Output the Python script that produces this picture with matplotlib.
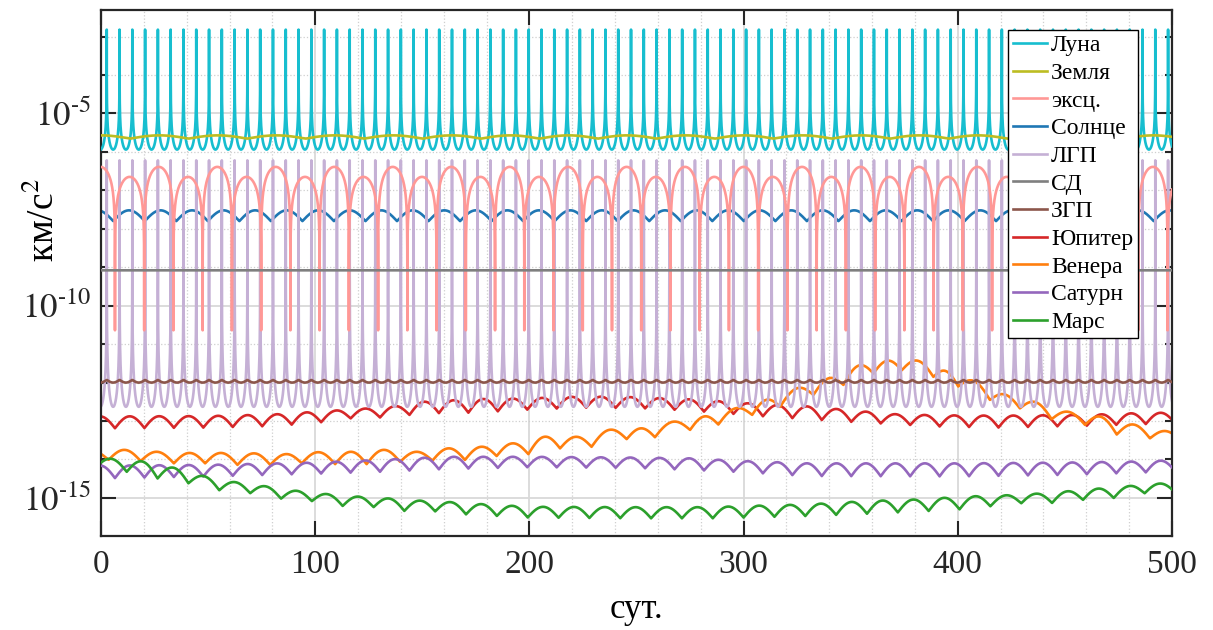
import numpy as np
import matplotlib
matplotlib.use('Agg')
import matplotlib.pyplot as plt
from matplotlib.ticker import FixedLocator, FixedFormatter, NullFormatter, MultipleLocator

plt.rcParams.update({
    'font.family': 'Liberation Serif',
    'mathtext.fontset': 'stix',
    'font.size': 24,
})

# === values (log10 of km/s^2, time in days) ===
LABELS = ['Луна', 'Земля', 'эксц.', 'Солнце', 'ЛГП', 'СД', 'ЗГП',
          'Юпитер', 'Венера', 'Сатурн', 'Марс']
COLORS = ['#17becf', '#bcbd22', '#ff9896', '#1f77b4', '#c5b0d5', '#7f7f7f',
          '#8c564b', '#d62728', '#ff7f0e', '#9467bd', '#2ca02c']

# spiky curves: period, first spike day, log floor, log cap, steepness
MOON = [5.97, 2.66, -5.94, -2.82, 1.0]
LGP = [5.97, 2.66, -12.63, -6.22, 1.8]

# eccentricity arches: period, first dip day, tall top, low top, dip floor
ECC = [13.65, 6.5, -6.39, -6.65, -10.64]

# small regular waves: period, first cusp day, cusp level, crest level
EARTH = [27.3, 13.6, -5.655, -5.57]
SUN = [14.72, 5.7, -7.80, -7.52]
ZGP = [5.97, 2.66, -11.93, -12.0]

SD_DAYS = [0, 500]
SD_LOG = [-9.08, -9.08]

# Jupiter: period 13.75, troughs from day 6.5
JUP_WAVE = [13.75, 6.5]
JUP_DAYS = [0, 50, 80, 100, 117, 135, 150, 175, 200, 225, 250, 273, 290, 310,
            330, 350, 370, 390, 420, 460, 480, 500]
JUP_PEAK = [-12.88, -12.87, -12.83, -12.76, -12.70, -12.63, -12.50, -12.43,
            -12.41, -12.36, -12.38, -12.43, -12.49, -12.57, -12.62, -12.72,
            -12.82, -12.85, -12.86, -12.84, -12.80, -12.78]
JUP_TROUGH = [-13.19, -13.17, -13.13, -13.05, -12.93, -12.90, -12.80, -12.78,
              -12.70, -12.65, -12.66, -12.72, -12.79, -12.88, -12.95, -13.02,
              -13.08, -13.14, -13.17, -13.12, -13.09, -13.06]

# Saturn: period 13.75, troughs from day 6.5
SAT_WAVE = [13.75, 6.5]
SAT_DAYS = [0, 50, 100, 130, 160, 200, 250, 275, 300, 330, 400, 450, 486, 500]
SAT_PEAK = [-14.16, -14.14, -14.08, -14.01, -13.93, -13.93, -13.95, -13.97,
            -14.04, -14.10, -14.10, -14.08, -14.05, -14.02]
SAT_TROUGH = [-14.49, -14.44, -14.37, -14.32, -14.25, -14.20, -14.22, -14.27,
              -14.33, -14.43, -14.44, -14.40, -14.34, -14.30]

# Mars: period 14.4, troughs from day 12
MARS_WAVE = [14.4, 12.0]
MARS_DAYS = [0, 12, 26, 41, 56, 70, 85, 98, 113, 127, 142, 156, 171, 200, 250,
             285, 300, 329, 358, 386, 400, 429, 444, 459, 473, 487, 500]
MARS_PEAK = [-13.97, -14.00, -14.10, -14.32, -14.56, -14.62, -14.79, -14.84,
             -14.96, -14.97, -15.06, -15.08, -15.14, -15.23, -15.24, -15.24,
             -15.21, -15.17, -15.08, -15.03, -14.97, -14.92, -14.86, -14.79,
             -14.72, -14.66, -14.60]
MARS_TROUGH = [-14.20, -14.32, -14.49, -14.62, -14.81, -14.88, -15.03, -15.08,
               -15.21, -15.24, -15.34, -15.35, -15.43, -15.51, -15.53, -15.53,
               -15.51, -15.47, -15.41, -15.34, -15.30, -15.14, -15.13, -15.05,
               -15.00, -14.88, -14.86]

# Venus: troughs read one by one (period drifts)
VEN_TROUGH_DAYS = [-11.5, 3.5, 18.5, 34, 48.6, 63.7, 79, 93.7, 109.3, 124,
                   139.6, 154.7, 169.9, 184.7, 199.5, 214.3, 229, 245.4, 258.6,
                   275, 288.2, 304, 317, 332.6, 346.6, 360.6, 373.8, 388.6,
                   400.2, 415, 429, 443.8, 459.4, 474.2, 489.7, 504]
VEN_TROUGH = [-14.0, -14.01, -14.04, -14.1, -14.1, -14.14, -14.14, -14.1,
              -14.12, -14.12, -14.06, -14.03, -14.01, -13.91, -13.86, -13.71,
              -13.67, -13.47, -13.42, -13.23, -13.09, -12.84, -12.63, -12.32,
              -12.06, -11.76, -11.68, -11.85, -12.1, -12.45, -12.67, -12.95,
              -13.1, -13.35, -13.45, -13.5]
VEN_PEAK = [-13.78, -13.75, -13.8, -13.83, -13.83, -13.84, -13.86, -13.81,
            -13.8, -13.75, -13.8, -13.71, -13.67, -13.58, -13.41, -13.41,
            -13.23, -13.19, -13.02, -12.88, -12.67, -12.45, -12.15, -11.89,
            -11.56, -11.43, -11.43, -11.7, -11.96, -12.31, -12.51, -12.76,
            -12.89, -13.09, -13.26]

YTICKS = [1e-15, 1e-10, 1e-5]
YTICK_LABELS = ['$10^{\u201015}$', '$10^{\u201010}$', '$10^{\u20105}$']

T = np.linspace(0, 500, 100001)


def spikes(t, period, t0, lo, hi, k):
    s = np.abs(np.sin(np.pi * (t - t0) / period))
    return np.minimum(lo - k * np.log10(np.maximum(s, 1e-12)), hi)


def arches(t, period, t0, tall, low, floor):
    u = (t - t0) / period
    n = np.floor(u).astype(int)
    top = np.where(n % 2 == 1, tall, low)
    s = np.abs(np.sin(np.pi * u))
    return np.maximum(top + np.log10(np.maximum(s, 1e-12)), floor)


def cusp_wave(t, troughs, lo, hi):
    troughs = np.asarray(troughs, float)
    lo = np.asarray(lo, float)
    hi = np.asarray(hi, float)
    i = np.clip(np.searchsorted(troughs, t, side='right') - 1, 0, len(troughs) - 2)
    a, b = troughs[i], troughs[i + 1]
    f = (t - a) / (b - a)
    base = lo[i] + (lo[i + 1] - lo[i]) * f
    amp = hi[i] - 0.5 * (lo[i] + lo[i + 1])
    return base + amp * np.sin(np.pi * f)


def regular(t, period, t0, lo, hi):
    tr = np.arange(t0 - period * np.ceil(t0 / period + 1), 500 + 2 * period, period)
    return cusp_wave(t, tr, np.full(len(tr), lo), np.full(len(tr) - 1, hi))


def knotted(t, wave, days, peak, trough):
    period, t0 = wave
    tr = np.arange(t0 - period * np.ceil(t0 / period + 1), 500 + 2 * period, period)
    lo = np.interp(tr, days, trough)
    hi = np.interp(tr[:-1] + period / 2, days, peak)
    return cusp_wave(t, tr, lo, hi)


curves = {
    'Луна': spikes(T, *MOON),
    'Земля': regular(T, *EARTH),
    'эксц.': arches(T, *ECC),
    'Солнце': regular(T, *SUN),
    'ЛГП': spikes(T, *LGP),
    'СД': np.interp(T, SD_DAYS, SD_LOG),
    'ЗГП': regular(T, *ZGP),
    'Юпитер': knotted(T, JUP_WAVE, JUP_DAYS, JUP_PEAK, JUP_TROUGH),
    'Венера': cusp_wave(T, VEN_TROUGH_DAYS, VEN_TROUGH, VEN_PEAK),
    'Сатурн': knotted(T, SAT_WAVE, SAT_DAYS, SAT_PEAK, SAT_TROUGH),
    'Марс': knotted(T, MARS_WAVE, MARS_DAYS, MARS_PEAK, MARS_TROUGH),
}
ZORDER = {'Солнце': 2.0, 'Юпитер': 2.1, 'Венера': 2.2, 'ЛГП': 2.5}

fig = plt.figure(figsize=(12.13, 6.30), dpi=100)
ax = fig.add_axes([0.0833, 0.1492, 0.8829, 0.8349])

handles = []
for name, color in zip(LABELS, COLORS):
    h, = ax.plot(T, 10 ** curves[name], color=color, lw=1.9,
                 zorder=ZORDER.get(name, 3), label=name)
    handles.append(h)

ax.set_yscale('log')
ax.set_xlim(0, 500)
ax.set_ylim(10 ** -15.99, 10 ** -2.31)

ax.xaxis.set_major_locator(MultipleLocator(100))
ax.xaxis.set_minor_locator(MultipleLocator(20))
ax.yaxis.set_major_locator(FixedLocator(YTICKS))
ax.yaxis.set_major_formatter(FixedFormatter(YTICK_LABELS))
ax.yaxis.set_minor_locator(FixedLocator([10.0 ** k for k in range(-16, -1) if k % 5]))
ax.yaxis.set_minor_formatter(NullFormatter())

ax.tick_params(which='both', direction='in', top=True, right=True, width=1.5,
               colors='#262626', labelcolor='#262626')
ax.tick_params(axis='x', which='major', length=11, pad=10, labelsize=24)
ax.tick_params(axis='x', which='minor', length=0)
ax.tick_params(axis='y', which='major', length=11, pad=7, labelsize=25)
ax.tick_params(axis='y', which='minor', length=5)
for s in ax.spines.values():
    s.set_linewidth(1.6)
    s.set_color('#262626')

ax.grid(True, which='major', color='#d9d9d9', lw=1.3, ls='-')
ax.grid(True, which='minor', color='#cfcfcf', lw=0.9, ls=':')
ax.set_axisbelow(True)

ax.set_xlabel('сут.', fontsize=25)
ax.xaxis.set_label_coords(0.5, -0.108)
ax.set_ylabel('км/с$^2$', fontsize=27)
ax.yaxis.set_label_coords(-0.036, 0.6)

leg = ax.legend(handles=handles, loc='upper right', bbox_to_anchor=(0.968, 0.962),
                borderaxespad=0, fontsize=17, handlelength=1.45, handletextpad=0.15,
                labelspacing=0.26, borderpad=0.2, fancybox=False, framealpha=1,
                edgecolor='black')
leg.get_frame().set_linewidth(1.0)
leg.set_zorder(10)

fig.savefig('out.png', dpi=100)
